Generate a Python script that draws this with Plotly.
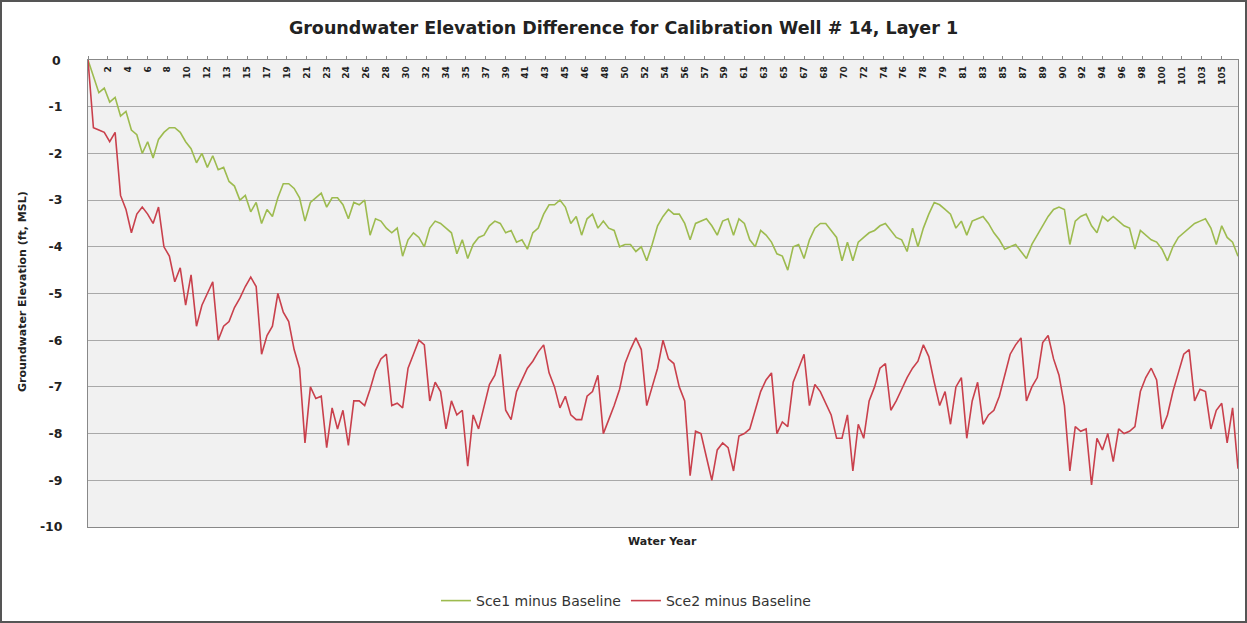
import numpy as np
import plotly.graph_objects as go

# ---------------- data (values read every half year, months 0,6,12,...) ----------------
sce1_minus_baseline = [
    0.0, -0.35, -0.7, -0.6, -0.9, -0.8, -1.2, -1.1, -1.5, -1.6,
    -2.0, -1.75, -2.1, -1.7, -1.55, -1.45, -1.45, -1.55, -1.75, -1.9,
    -2.2, -2.0, -2.3, -2.05, -2.35, -2.3, -2.6, -2.7, -3.0, -2.9,
    -3.25, -3.05, -3.5, -3.2, -3.35, -2.95, -2.65, -2.65, -2.75, -2.95,
    -3.45, -3.05, -2.95, -2.85, -3.15, -2.95, -2.95, -3.1, -3.4, -3.05,
    -3.1, -3.0, -3.75, -3.4, -3.45, -3.6, -3.7, -3.6, -4.2, -3.85,
    -3.7, -3.8, -4.0, -3.6, -3.45, -3.5, -3.6, -3.7, -4.15, -3.85,
    -4.25, -3.95, -3.8, -3.75, -3.55, -3.45, -3.5, -3.7, -3.65, -3.9,
    -3.85, -4.05, -3.7, -3.6, -3.3, -3.1, -3.1, -3.0, -3.15, -3.5,
    -3.35, -3.75, -3.4, -3.3, -3.6, -3.45, -3.6, -3.65, -4.0, -3.95,
    -3.95, -4.1, -4.0, -4.3, -3.95, -3.55, -3.35, -3.2, -3.3, -3.3,
    -3.5, -3.85, -3.5, -3.45, -3.4, -3.55, -3.75, -3.45, -3.4, -3.75,
    -3.4, -3.5, -3.85, -4.0, -3.65, -3.75, -3.9, -4.15, -4.2, -4.5,
    -4.0, -3.95, -4.25, -3.85, -3.6, -3.5, -3.5, -3.65, -3.8, -4.3,
    -3.9, -4.3, -3.9, -3.8, -3.7, -3.65, -3.55, -3.5, -3.65, -3.8,
    -3.85, -4.1, -3.6, -4.0, -3.6, -3.3, -3.05, -3.1, -3.2, -3.3,
    -3.6, -3.45, -3.75, -3.45, -3.4, -3.35, -3.5, -3.7, -3.85, -4.05,
    -4.0, -3.95, -4.1, -4.25, -3.95, -3.75, -3.55, -3.35, -3.2, -3.15,
    -3.2, -3.95, -3.45, -3.35, -3.3, -3.55, -3.7, -3.35, -3.45, -3.35,
    -3.45, -3.55, -3.6, -4.05, -3.65, -3.75, -3.85, -3.9, -4.05, -4.3,
    -4.0, -3.8, -3.7, -3.6, -3.5, -3.45, -3.4, -3.6, -3.95, -3.55,
    -3.8, -3.9, -4.2,
]

sce2_minus_baseline = [
    0.0, -1.45, -1.5, -1.55, -1.75, -1.55, -2.9, -3.2, -3.7, -3.3,
    -3.15, -3.3, -3.5, -3.15, -4.0, -4.2, -4.75, -4.45, -5.25, -4.6,
    -5.7, -5.25, -5.0, -4.75, -6.0, -5.7, -5.6, -5.3, -5.1, -4.85,
    -4.65, -4.85, -6.3, -5.9, -5.7, -5.0, -5.4, -5.6, -6.2, -6.6,
    -8.2, -7.0, -7.25, -7.2, -8.3, -7.45, -7.9, -7.5, -8.25, -7.3,
    -7.3, -7.4, -7.05, -6.65, -6.4, -6.3, -7.4, -7.35, -7.45, -6.6,
    -6.3, -6.0, -6.1, -7.3, -6.9, -7.1, -7.9, -7.3, -7.6, -7.5,
    -8.7, -7.6, -7.9, -7.45, -6.95, -6.75, -6.3, -7.5, -7.7, -7.1,
    -6.85, -6.6, -6.45, -6.25, -6.1, -6.7, -7.0, -7.45, -7.2, -7.6,
    -7.7, -7.7, -7.2, -7.1, -6.75, -8.0, -7.7, -7.4, -7.05, -6.5,
    -6.2, -5.95, -6.2, -7.4, -7.0, -6.6, -6.0, -6.4, -6.5, -7.0,
    -7.3, -8.9, -7.95, -8.0, -8.5, -9.0, -8.35, -8.2, -8.3, -8.8,
    -8.05, -8.0, -7.9, -7.5, -7.1, -6.85, -6.7, -8.0, -7.75, -7.85,
    -6.9, -6.6, -6.3, -7.4, -6.95, -7.1, -7.35, -7.6, -8.1, -8.1,
    -7.6, -8.8, -7.8, -8.1, -7.3, -7.0, -6.6, -6.5, -7.5, -7.3,
    -7.05, -6.8, -6.6, -6.45, -6.1, -6.35, -6.9, -7.4, -7.1, -7.8,
    -7.0, -6.8, -8.1, -7.3, -6.9, -7.8, -7.6, -7.5, -7.2, -6.75,
    -6.3, -6.1, -5.95, -7.3, -7.0, -6.8, -6.05, -5.9, -6.4, -6.75,
    -7.4, -8.8, -7.85, -7.95, -7.9, -9.1, -8.1, -8.35, -8.0, -8.6,
    -7.9, -8.0, -7.95, -7.85, -7.1, -6.8, -6.6, -6.85, -7.9, -7.6,
    -7.1, -6.7, -6.3, -6.2, -7.3, -7.05, -7.1, -7.9, -7.5, -7.35,
    -8.2, -7.45, -8.75,
]

sample_step_months = 6
total_months = 1272

tick_months = [0, 22, 44, 66, 88, 110, 132, 154, 176, 198, 220, 242, 264, 286, 308,
               330, 352, 374, 396, 418, 440, 462, 484, 506, 528, 550, 572, 594, 616,
               638, 660, 682, 704, 726, 748, 770, 792, 814, 836, 858, 880, 902, 924,
               946, 968, 990, 1012, 1034, 1056, 1078, 1100, 1122, 1144, 1166, 1188,
               1210, 1232, 1254]
tick_labels = ["1", "2", "4", "6", "8", "10", "12", "13", "15", "17", "19", "21", "23",
               "24", "26", "28", "30", "32", "34", "35", "37", "39", "41", "43", "45",
               "46", "48", "50", "52", "54", "56", "57", "59", "61", "63", "65", "67",
               "68", "70", "72", "74", "76", "78", "79", "81", "83", "85", "87", "89",
               "90", "92", "94", "96", "98", "100", "101", "103", "105"]

y_ticks = [0, -1, -2, -3, -4, -5, -6, -7, -8, -9, -10]
y_tick_labels = ["0", "-1", "-2", "-3", "-4", "-5", "-6", "-7", "-8", "-9", "-10"]

# ---------------- figure ----------------
FONT = "DejaVu Sans"
W, H = 1247, 623
L, R, T, B = 88, 9, 60, 96
PW, PH = W - L - R, H - T - B

x1 = np.arange(len(sce1_minus_baseline)) * sample_step_months
x2 = np.arange(len(sce2_minus_baseline)) * sample_step_months

fig = go.Figure()
fig.add_trace(go.Scatter(x=x1, y=sce1_minus_baseline, mode="lines",
                         name="Sce1 minus Baseline",
                         line=dict(color="#9dbb4f", width=1.6)))
fig.add_trace(go.Scatter(x=x2, y=sce2_minus_baseline, mode="lines",
                         name="Sce2 minus Baseline",
                         line=dict(color="#c9404c", width=1.6)))

# the "0" y label is added as an annotation, because the inside x tick labels
# would otherwise hide it
y_text = [t if v != 0 else "" for v, t in zip(y_ticks, y_tick_labels)]

fig.update_layout(
    width=W, height=H, autosize=False,
    margin=dict(l=L, r=R, t=T, b=B, autoexpand=False),
    paper_bgcolor="white",
    plot_bgcolor="#f1f1f1",
    font=dict(family=FONT, color="#222"),
    title=dict(text="<b>Groundwater Elevation Difference for Calibration Well # 14, Layer 1</b>",
               x=0.5, xref="container", xanchor="center",
               y=1 - 28 / H, yref="container", yanchor="middle",
               font=dict(size=17.5, family=FONT, color="#222")),
    showlegend=True,
    legend=dict(orientation="h", x=(626 - L) / PW, xanchor="center",
                y=-(601 - (H - B)) / PH, yanchor="middle",
                font=dict(size=14, family=FONT, color="#333"),
                itemwidth=30, bgcolor="rgba(0,0,0,0)"),
    xaxis=dict(range=[0, total_months], side="top", automargin=False,
               tickmode="array", tickvals=tick_months, ticktext=tick_labels,
               ticklabelposition="inside", tickangle=-90,
               tickfont=dict(size=9, family=FONT, color="#222", weight="bold"),
               ticks="outside", ticklen=3, tickcolor="#888",
               showline=True, linecolor="#888", linewidth=1, mirror=True,
               showgrid=False, zeroline=False),
    yaxis=dict(range=[-10, 0], automargin=False,
               tickmode="array", tickvals=y_ticks, ticktext=y_text,
               tickfont=dict(size=12.5, family=FONT, color="#222", weight="bold"),
               ticklabelstandoff=22,
               showline=True, linecolor="#888", linewidth=1, mirror=True,
               showgrid=True, gridcolor="#a9a9a9", gridwidth=1,
               zeroline=False, ticks="", ticklen=0),
    annotations=[
        dict(text="<b>" + y_tick_labels[0] + "</b>", xref="paper", yref="y",
             x=-(L - 63) / PW, y=y_ticks[0], xanchor="right", yanchor="middle",
             showarrow=False, font=dict(size=12.5, family=FONT, color="#222")),
        dict(text="<b>Water Year</b>", xref="paper", yref="paper",
             x=(662 - L) / PW, y=-(541 - (H - B)) / PH, xanchor="center", yanchor="middle",
             showarrow=False, font=dict(size=11, family=FONT, color="#222")),
        dict(text="<b>Groundwater Elevation (ft, MSL)</b>", xref="paper", yref="paper",
             x=-(L - 22) / PW, y=(H - B - 292) / PH, xanchor="center", yanchor="middle",
             textangle=-90, showarrow=False,
             font=dict(size=11, family=FONT, color="#222")),
    ],
    shapes=[
        dict(type="rect", xref="paper", yref="paper", x0=-(L - 1) / PW, x1=1 + (R - 1) / PW,
             y0=-(B - 1) / PH, y1=1 + (T - 1) / PH,
             line=dict(color="#555", width=2), fillcolor="rgba(0,0,0,0)", layer="below"),
    ],
)

fig.write_html("out.html", config={"displayModeBar": False},
               post_script="document.body.style.margin='0';document.body.style.padding='0';")
